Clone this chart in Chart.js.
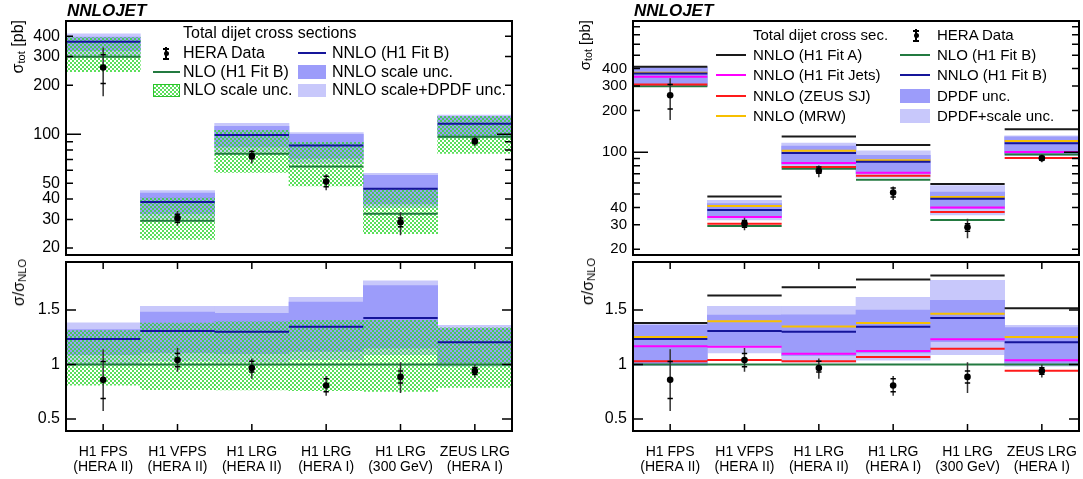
<!DOCTYPE html>
<html>
<head>
<meta charset="utf-8">
<title>Total dijet cross sections</title>
<script src="https://cdn.jsdelivr.net/npm/chart.js@4.4.1/dist/chart.umd.min.js"></script>
<style>
  html, body { margin: 0; padding: 0; background: #fff; }
  #page { position: relative; width: 1083px; height: 479px; overflow: hidden; font-family: 'Liberation Sans', Arial, sans-serif; color: #000; }
  canvas { position: absolute; }
  .txt { position: absolute; white-space: nowrap; line-height: 18px; }
  .ytitle { position: absolute; writing-mode: vertical-rl; transform: rotate(180deg); white-space: nowrap; line-height: 18px; width: 18px; }
  .ytitle sub { font-size: 70%; vertical-align: -0.3em; line-height: 0; }
  .sym { position: absolute; }
  .hatch { background: repeating-conic-gradient(rgba(50,215,50,0.8) 0 25%, transparent 0 50%) 0 0 / 4px 4px; border: 1px solid #2bc42b; box-sizing: border-box; }
</style>
</head>
<body>
<div id="page">
  <canvas id="lt" width="540" height="259" style="left:0;top:0"></canvas>
  <canvas id="lb" width="540" height="221" style="left:0;top:258px"></canvas>
  <canvas id="rt" width="516" height="259" style="left:567px;top:0"></canvas>
  <canvas id="rb" width="516" height="221" style="left:567px;top:258px"></canvas>

  <!-- left panel texts -->
  <div class="txt" style="left:67px;top:1px;font:italic bold 17px/20px 'Liberation Sans'">NNLOJET</div>
  <div class="ytitle" style="left:9px;top:20px;font-size:16px">σ<sub>tot</sub> [pb]</div>
  <div class="ytitle" style="left:10px;top:259px;font-size:16px">σ/σ<sub>NLO</sub></div>

  <div class="txt" style="left:183px;top:24px;font-size:16px">Total dijet cross sections</div>
  <div class="sym" style="left:165px;top:47px;width:1.5px;height:13px;background:#000"></div>
  <div class="sym" style="left:163px;top:48px;width:6px;height:1.5px;background:#000"></div>
  <div class="sym" style="left:163px;top:58px;width:6px;height:1.5px;background:#000"></div>
  <div class="sym" style="left:163.5px;top:51px;width:5px;height:5px;border-radius:50%;background:#000"></div>
  <div class="txt" style="left:183px;top:44px;font-size:16px">HERA Data</div>
  <div class="sym" style="left:298px;top:52px;width:28px;height:2px;background:#15159a"></div>
  <div class="txt" style="left:332px;top:44px;font-size:16px">NNLO (H1 Fit B)</div>
  <div class="sym" style="left:153px;top:71px;width:27px;height:2px;background:#237a40"></div>
  <div class="txt" style="left:183px;top:63px;font-size:16px">NLO (H1 Fit B)</div>
  <div class="sym" style="left:298px;top:65px;width:28px;height:14px;background:#9c9cfa"></div>
  <div class="txt" style="left:332px;top:63px;font-size:16px">NNLO scale unc.</div>
  <div class="sym hatch" style="left:153px;top:84px;width:27px;height:13px"></div>
  <div class="txt" style="left:183px;top:81px;font-size:16px">NLO scale unc.</div>
  <div class="sym" style="left:298px;top:84px;width:28px;height:13px;background:#c8c8fb"></div>
  <div class="txt" style="left:332px;top:81px;font-size:16px">NNLO scale+DPDF unc.</div>

  <!-- right panel texts -->
  <div class="txt" style="left:634px;top:1px;font:italic bold 17px/20px 'Liberation Sans'">NNLOJET</div>
  <div class="ytitle" style="left:576px;top:20px;font-size:15px">σ<sub>tot</sub> [pb]</div>
  <div class="ytitle" style="left:579px;top:258px;font-size:16px">σ/σ<sub>NLO</sub></div>

  <div class="txt" style="left:753px;top:26px;font-size:15px">Total dijet cross sec.</div>
  <div class="sym" style="left:915px;top:29px;width:1.5px;height:13px;background:#000"></div>
  <div class="sym" style="left:913px;top:30px;width:6px;height:1.5px;background:#000"></div>
  <div class="sym" style="left:913px;top:40px;width:6px;height:1.5px;background:#000"></div>
  <div class="sym" style="left:913.5px;top:33px;width:5px;height:5px;border-radius:50%;background:#000"></div>
  <div class="txt" style="left:937px;top:26px;font-size:15px">HERA Data</div>
  <div class="sym" style="left:716px;top:54px;width:30px;height:2px;background:#1a1a1a"></div>
  <div class="txt" style="left:753px;top:46px;font-size:15px">NNLO (H1 Fit A)</div>
  <div class="sym" style="left:900px;top:54px;width:30px;height:2px;background:#237a40"></div>
  <div class="txt" style="left:937px;top:46px;font-size:15px">NLO (H1 Fit B)</div>
  <div class="sym" style="left:716px;top:74px;width:30px;height:2px;background:#ff00ff"></div>
  <div class="txt" style="left:753px;top:66px;font-size:15px">NNLO (H1 Fit Jets)</div>
  <div class="sym" style="left:900px;top:74px;width:30px;height:2px;background:#15159a"></div>
  <div class="txt" style="left:937px;top:66px;font-size:15px">NNLO (H1 Fit B)</div>
  <div class="sym" style="left:716px;top:95px;width:30px;height:2px;background:#ff1a1a"></div>
  <div class="txt" style="left:753px;top:87px;font-size:15px">NNLO (ZEUS SJ)</div>
  <div class="sym" style="left:900px;top:89px;width:30px;height:14px;background:#9c9cfa"></div>
  <div class="txt" style="left:937px;top:87px;font-size:15px">DPDF unc.</div>
  <div class="sym" style="left:716px;top:115px;width:30px;height:2px;background:#f7bf00"></div>
  <div class="txt" style="left:753px;top:107px;font-size:15px">NNLO (MRW)</div>
  <div class="sym" style="left:900px;top:109px;width:30px;height:14px;background:#c8c8fb"></div>
  <div class="txt" style="left:937px;top:107px;font-size:15px">DPDF+scale unc.</div>
</div>

<script>
// categories (two-line labels)
const categories = [
    ['H1 FPS', '(HERA II)'],
    ['H1 VFPS', '(HERA II)'],
    ['H1 LRG', '(HERA II)'],
    ['H1 LRG', '(HERA I)'],
    ['H1 LRG', '(300 GeV)'],
    ['ZEUS LRG', '(HERA I)']
];

// total cross sections in pb (upper pads)
const xsNLO = [299, 29.4, 76.0, 63.4, 32.5, 96.4];
const xsNLOScaleLo = [242, 22.6, 58.2, 48.2, 24.5, 76.2];
const xsNLOScaleHi = [392, 40.6, 105.6, 89.1, 45.7, 128.8];
const xsNNLO = [369, 38.4, 98.8, 85.3, 46.3, 116];
const xsNNLOScaleLo = [326, 32.5, 83.6, 71.0, 37.4, 97.8];
const xsNNLOScaleHi = [395, 43.5, 111.6, 99.7, 56.0, 128.2];
const xsNNLOTotLo = [299, 30.3, 77.5, 66.3, 35.4, 95.0];
const xsNNLOTotHi = [413, 45.1, 116.6, 102.4, 57.5, 131.1];
const xsFitA = [413, 48.0, 129.8, 112.7, 59.0, 146.1];
const xsFitJets = [349, 34.2, 83.5, 71.2, 40.0, 100.2];
const xsZeusSJ = [308, 30.6, 78.3, 67.7, 37.2, 90.8];
const xsMRW = [374, 41.0, 102.4, 87.6, 47.6, 120.7];
const xsDPDFLo = [301, 34.5, 82.1, 70.1, 39.3, 97.3];
const xsDPDFHi = [407, 42.7, 110.7, 95.0, 51.6, 129.1];
const xsDPDFScaleLo = [296, 32.5, 77.5, 65.9, 35.4, 95.0];
const xsDPDFScaleHi = [413, 45.1, 116.6, 102.4, 57.6, 131.1];
const xsData = [257, 30.6, 73.5, 51.2, 28.8, 90.6];
const xsDataStatLo = [205, 28.8, 70.7, 47.6, 27.0, 87.7];
const xsDataStatHi = [307, 32.3, 78.3, 55.2, 30.6, 93.5];
const xsDataTotLo = [171, 27.4, 66.1, 45.3, 24.0, 84.8];
const xsDataTotHi = [341, 33.8, 80.1, 56.7, 33.2, 96.4];

// ratios to NLO (lower pads)
const rNLO = [1, 1, 1, 1, 1, 1];
const rNLOScaleLo = [0.81, 0.77, 0.766, 0.76, 0.753, 0.79];
const rNLOScaleHi = [1.31, 1.38, 1.39, 1.405, 1.405, 1.336];
const rNNLO = [1.234, 1.306, 1.30, 1.345, 1.426, 1.204];
const rNNLOScaleLo = [1.09, 1.105, 1.10, 1.12, 1.15, 1.015];
const rNNLOScaleHi = [1.321, 1.48, 1.468, 1.573, 1.723, 1.33];
const rNNLOTotLo = [1.0, 1.03, 1.02, 1.045, 1.09, 0.985];
const rNNLOTotHi = [1.381, 1.534, 1.534, 1.615, 1.768, 1.36];
const rFitA = [1.381, 1.633, 1.708, 1.778, 1.816, 1.516];
const rFitJets = [1.168, 1.162, 1.099, 1.123, 1.231, 1.039];
const rZeusSJ = [1.03, 1.042, 1.03, 1.068, 1.144, 0.942];
const rMRW = [1.252, 1.396, 1.348, 1.381, 1.465, 1.252];
const rDPDFLo = [1.005, 1.175, 1.08, 1.105, 1.21, 1.009];
const rDPDFHi = [1.36, 1.453, 1.456, 1.498, 1.588, 1.339];
const rDPDFScaleLo = [0.99, 1.105, 1.02, 1.04, 1.09, 0.985];
const rDPDFScaleHi = [1.38, 1.534, 1.534, 1.615, 1.771, 1.36];
const rData = [0.859, 1.04, 0.967, 0.807, 0.886, 0.94];
const rDataStatLo = [0.687, 0.98, 0.93, 0.75, 0.83, 0.91];
const rDataStatHi = [1.027, 1.10, 1.03, 0.87, 0.94, 0.97];
const rDataTotLo = [0.573, 0.933, 0.87, 0.714, 0.739, 0.88];
const rDataTotHi = [1.14, 1.15, 1.054, 0.895, 1.02, 1.0];

// axis ticks
const leftXsTicks = [20, 30, 40, 50, 60, 70, 80, 90, 100, 200, 300, 400];
const leftXsLabels = [20, 30, 40, 50, 100, 200, 300, 400];
const rightXsTicks = [20, 30, 40, 50, 60, 70, 80, 90, 100, 200, 300, 400, 500, 600, 700, 800];
const rightXsLabels = [20, 30, 40, 100, 200, 300, 400];
const ratioTicks = [0.5, 1, 1.5];

const FONT = "'Liberation Sans', Arial, sans-serif";
const CAP = 0.036;   // half width of the stat caps, in category units

const C = {
    light: '#c8c8fb',
    dark: '#9c9cfa',
    nnlo: '#15159a',
    nlo: '#237a40',
    fitA: '#1a1a1a',
    jets: '#ff00ff',
    zeus: '#ff1a1a',
    mrw: '#f7bf00'
};

function makeHatch()
{
    const c = document.createElement('canvas');
    c.width = 4;
    c.height = 4;
    const g = c.getContext('2d');
    g.fillStyle = 'rgba(50,215,50,0.8)';
    g.fillRect(0, 0, 2, 2);
    g.fillRect(2, 2, 2, 2);
    return g.createPattern(c, 'repeat');
}
const hatch = makeHatch();

// one flat segment across each category
function segments(values)
{
    const pts = [];
    values.forEach((v, i) => { pts.push({ x: i, y: v }, { x: i + 1, y: v }, { x: i + 1, y: null }); });
    return pts;
}

function lineSet(values, color, order)
{
    return { type: 'line', data: segments(values), borderColor: color, borderWidth: 2, pointRadius: 0,
        borderCapStyle: 'butt', spanGaps: false, tension: 0, order };
}

function bandSet(lo, hi, color, order)
{
    return { type: 'bar', data: lo.map((v, i) => ({ x: i + 0.5, y: [v, hi[i]] })), backgroundColor: color,
        borderWidth: 0, barPercentage: 1, categoryPercentage: 1, grouped: false, order };
}

function dataSets(val, statLo, statHi, totLo, totHi)
{
    const bars = [];
    const caps = [];
    val.forEach((_, i) =>
    {
        const c = i + 0.5;
        bars.push({ x: c, y: totLo[i] }, { x: c, y: totHi[i] }, { x: c, y: null });
        caps.push({ x: c - CAP, y: statLo[i] }, { x: c + CAP, y: statLo[i] }, { x: c, y: null });
        caps.push({ x: c - CAP, y: statHi[i] }, { x: c + CAP, y: statHi[i] }, { x: c, y: null });
    });
    return [
        { type: 'line', data: val.map((v, i) => ({ x: i + 0.5, y: v })), showLine: false, pointRadius: 3.3,
            pointBackgroundColor: '#000', pointBorderWidth: 0, order: 0 },
        { type: 'line', data: caps, borderColor: '#000', borderWidth: 1.5, pointRadius: 0, spanGaps: false, order: 1 },
        { type: 'line', data: bars, borderColor: '#333', borderWidth: 1.5, pointRadius: 0, spanGaps: false, order: 2 }
    ];
}

// frame and inward ticks, ROOT style
const framePlugin = {
    id: 'frame',
    afterDraw(chart, args, o)
    {
        const { ctx, chartArea: a } = chart;
        const y = chart.scales.y;
        const x = chart.scales.x;
        ctx.save();
        ctx.strokeStyle = '#000';
        ctx.lineWidth = 1.5;
        ctx.beginPath();
        o.yTicks.forEach(v =>
        {
            const py = y.getPixelForValue(v);
            const len = o.major.includes(v) ? o.majorLen : o.minorLen;
            ctx.moveTo(a.left, py);
            ctx.lineTo(a.left + len, py);
            ctx.moveTo(a.right, py);
            ctx.lineTo(a.right - len, py);
        });
        if (o.xTicks)
        {
            categories.forEach((_, i) =>
            {
                const px = x.getPixelForValue(i + 0.5);
                ctx.moveTo(px, a.top);
                ctx.lineTo(px, a.top + 7);
                ctx.moveTo(px, a.bottom);
                ctx.lineTo(px, a.bottom - 7);
            });
        }
        ctx.stroke();
        ctx.lineWidth = 2;
        ctx.strokeRect(a.left, a.top, a.right - a.left, a.bottom - a.top);
        ctx.restore();
    }
};

function xScale(showLabels)
{
    return {
        type: 'linear', min: 0, max: 6, offset: false, display: showLabels,
        afterBuildTicks: s => { s.ticks = categories.map((_, i) => ({ value: i + 0.5 })); },
        afterFit: s => { if (showLabels) s.height = 48; s.paddingLeft = 0; s.paddingRight = 0; },
        grid: { display: false, drawTicks: false },
        border: { display: false },
        ticks: { autoSkip: false, maxRotation: 0, padding: 13, color: '#000',
            font: { family: FONT, size: 14, lineHeight: 1.1 }, callback: (v, i) => categories[i] }
    };
}

function yScale(type, min, max, labels, size)
{
    return {
        type, min, max,
        afterBuildTicks: s => { s.ticks = labels.map(v => ({ value: v })); },
        afterFit: s => { s.width = 66; s.paddingTop = 0; s.paddingBottom = 0; },
        grid: { display: false, drawTicks: false },
        border: { display: false },
        ticks: { autoSkip: false, padding: 6, color: '#000', font: { family: FONT, size },
            callback: v => String(v) }
    };
}

function makePad(id, pad)
{
    return new Chart(document.getElementById(id), {
        type: 'bar',
        data: { datasets: pad.datasets },
        options: {
            responsive: false,
            animation: false,
            events: [],
            devicePixelRatio: 1,
            layout: { padding: pad.padding },
            plugins: {
                legend: { display: false },
                tooltip: { enabled: false },
                frame: pad.frame
            },
            scales: { x: xScale(pad.showX), y: pad.y }
        },
        plugins: [framePlugin]
    });
}

const topFrame = (ticks) => ({ yTicks: ticks, major: [100], majorLen: 15, minorLen: 7, xTicks: false });
const ratioFrame = { yTicks: ratioTicks, major: [], majorLen: 10, minorLen: 10, xTicks: true };

// left: upper pad
makePad('lt', {
    padding: { top: 21, right: 28, bottom: 1, left: 0 },
    showX: false,
    y: yScale('logarithmic', 18.14, 495.4, leftXsLabels, 16),
    frame: topFrame(leftXsTicks),
    datasets: [
        ...dataSets(xsData, xsDataStatLo, xsDataStatHi, xsDataTotLo, xsDataTotHi),
        lineSet(xsNNLO, C.nnlo, 3),
        lineSet(xsNLO, C.nlo, 4),
        bandSet(xsNLOScaleLo, xsNLOScaleHi, hatch, 5),
        bandSet(xsNNLOScaleLo, xsNNLOScaleHi, C.dark, 6),
        bandSet(xsNNLOTotLo, xsNNLOTotHi, C.light, 7)
    ]
});

// left: ratio pad
makePad('lb', {
    padding: { top: 1, right: 28, bottom: 0, left: 0 },
    showX: true,
    y: yScale('linear', 0.39, 1.9396, ratioTicks, 16),
    frame: ratioFrame,
    datasets: [
        ...dataSets(rData, rDataStatLo, rDataStatHi, rDataTotLo, rDataTotHi),
        lineSet(rNNLO, C.nnlo, 3),
        lineSet(rNLO, C.nlo, 4),
        bandSet(rNLOScaleLo, rNLOScaleHi, hatch, 5),
        bandSet(rNNLOScaleLo, rNNLOScaleHi, C.dark, 6),
        bandSet(rNNLOTotLo, rNNLOTotHi, C.light, 7)
    ]
});

// right: upper pad
makePad('rt', {
    padding: { top: 21, right: 4, bottom: 1, left: 0 },
    showX: false,
    y: yScale('logarithmic', 18.2, 881, rightXsLabels, 15),
    frame: topFrame(rightXsTicks),
    datasets: [
        ...dataSets(xsData, xsDataStatLo, xsDataStatHi, xsDataTotLo, xsDataTotHi),
        lineSet(xsNNLO, C.nnlo, 3),
        lineSet(xsMRW, C.mrw, 4),
        lineSet(xsFitJets, C.jets, 4),
        lineSet(xsZeusSJ, C.zeus, 4),
        lineSet(xsNLO, C.nlo, 4),
        lineSet(xsFitA, C.fitA, 4),
        bandSet(xsDPDFLo, xsDPDFHi, C.dark, 6),
        bandSet(xsDPDFScaleLo, xsDPDFScaleHi, C.light, 7)
    ]
});

// right: ratio pad
makePad('rb', {
    padding: { top: 1, right: 4, bottom: 0, left: 0 },
    showX: true,
    y: yScale('linear', 0.39, 1.9396, ratioTicks, 16),
    frame: ratioFrame,
    datasets: [
        ...dataSets(rData, rDataStatLo, rDataStatHi, rDataTotLo, rDataTotHi),
        lineSet(rNNLO, C.nnlo, 3),
        lineSet(rMRW, C.mrw, 4),
        lineSet(rFitJets, C.jets, 4),
        lineSet(rZeusSJ, C.zeus, 4),
        lineSet(rNLO, C.nlo, 4),
        lineSet(rFitA, C.fitA, 4),
        bandSet(rDPDFLo, rDPDFHi, C.dark, 6),
        bandSet(rDPDFScaleLo, rDPDFScaleHi, C.light, 7)
    ]
});
</script>
</body>
</html>
